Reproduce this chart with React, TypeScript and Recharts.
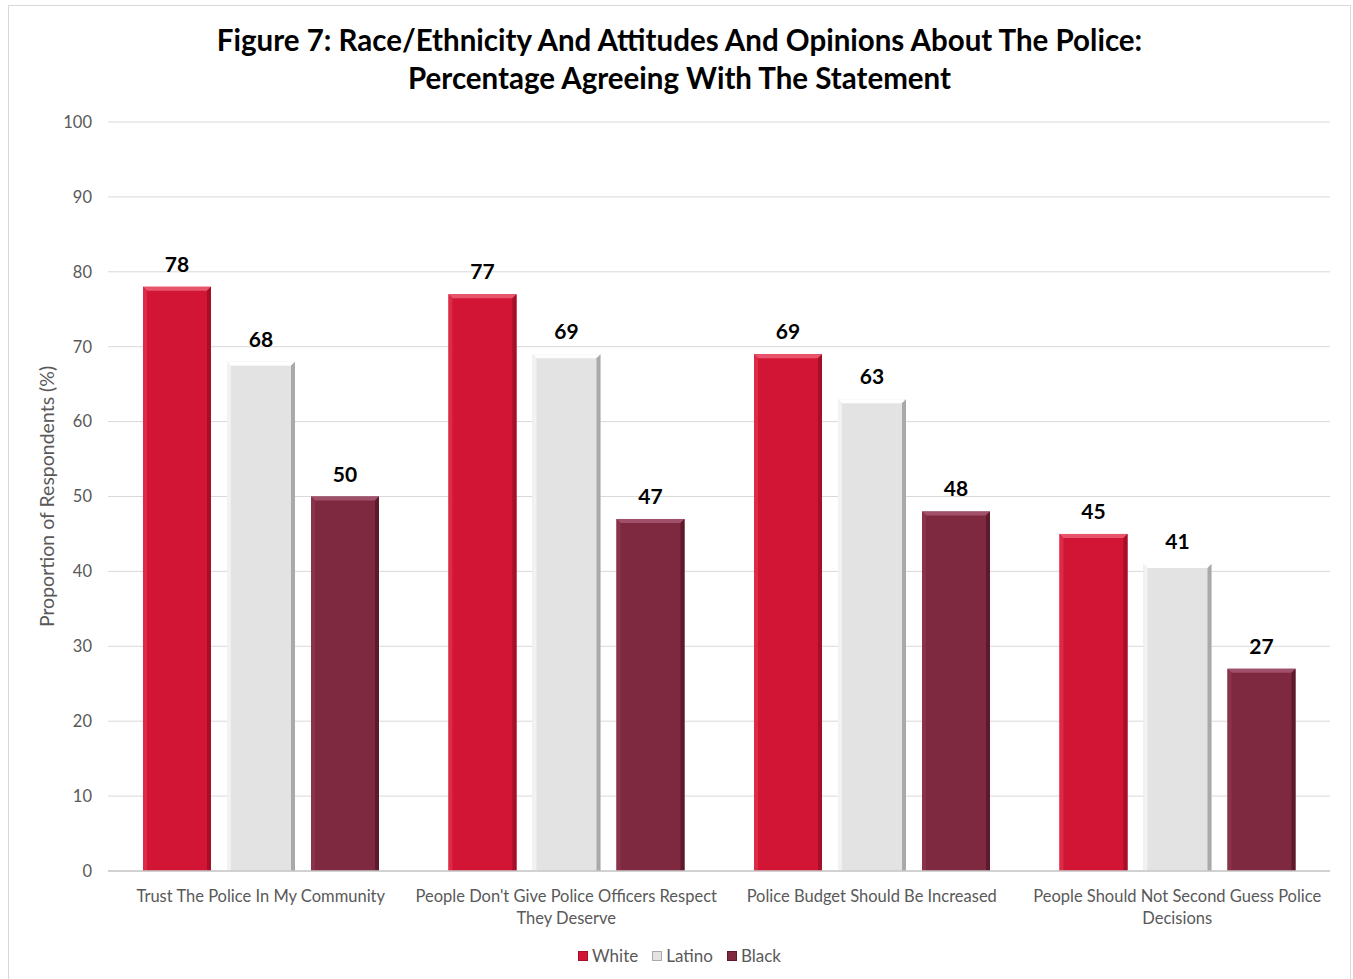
import { Bar, BarChart, CartesianGrid, LabelList, Text, XAxis, YAxis } from "recharts";

const CATEGORIES = [
  "Trust The Police In My Community",
  "People Don't Give Police Officers Respect They Deserve",
  "Police Budget Should Be Increased",
  "People Should Not Second Guess Police Decisions",
];
const WHITE = [78, 77, 69, 45];
const LATINO = [68, 69, 63, 41];
const BLACK = [50, 47, 48, 27];
const Y_TICKS = [0, 10, 20, 30, 40, 50, 60, 70, 80, 90, 100];

const FONT = "Lato, 'Open Sans', sans-serif";

const SERIES = [
  { key: "white", label: "White", fill: "#d31535", top: "#e9546d", left: "#dc2a47", right: "#a60f28" },
  { key: "latino", label: "Latino", fill: "#e3e3e3", top: "#ffffff", left: "#f2f2f2", right: "#a9a9a9" },
  { key: "black", label: "Black", fill: "#7e2940", top: "#a0506a", left: "#8a3249", right: "#5c1a2c" },
] as const;

const data = CATEGORIES.map((name, i) => ({
  name,
  white: WHITE[i],
  latino: LATINO[i],
  black: BLACK[i],
}));

function bevelShape(s: (typeof SERIES)[number]) {
  return (props: any) => {
    const { x, y, width: w, height: h } = props;
    if (!h || h <= 0) return <g />;
    const b = 4;
    return (
      <g>
        <rect x={x} y={y} width={w} height={h} fill={s.fill} />
        <polygon points={`${x},${y} ${x + w},${y} ${x + w - b},${y + b} ${x + b},${y + b}`} fill={s.top} />
        <polygon points={`${x},${y} ${x + b},${y + b} ${x + b},${y + h} ${x},${y + h}`} fill={s.left} />
        <polygon points={`${x + w},${y} ${x + w},${y + h} ${x + w - b},${y + h} ${x + w - b},${y + b}`} fill={s.right} />
      </g>
    );
  };
}

function XTick(props: any) {
  const { x, y, payload } = props;
  return (
    <Text
      x={x}
      y={y}
      width={300}
      textAnchor="middle"
      verticalAnchor="start"
      lineHeight="22px"
      fontSize={16.5}
      fontFamily={FONT}
      fill="#595959"
    >
      {payload.value}
    </Text>
  );
}

export default function App() {
  return (
    <div
      style={{
        position: "absolute",
        left: 8,
        top: 5,
        width: 1343,
        height: 980,
        border: "1px solid #d9d9d9",
        boxSizing: "border-box",
        background: "#fff",
        fontFamily: FONT,
      }}
    >
      <div
        style={{
          position: "absolute",
          left: 0,
          top: 15,
          width: 1341,
          textAlign: "center",
          fontWeight: 700,
          fontSize: 29.5,
          lineHeight: "38px",
          color: "#000",
        }}
      >
        Figure 7: Race/Ethnicity And Attitudes And Opinions About The Police:
        <br />
        Percentage Agreeing With The Statement
      </div>
      <BarChart
        width={1341}
        height={972}
        data={data}
        barSize={68}
        barGap={16}
        margin={{ top: 116, right: 20, bottom: 47, left: 0 }}
      >
        <CartesianGrid vertical={false} stroke="#d9d9d9" />
        <XAxis
          dataKey="name"
          height={60}
          tickLine={false}
          tickSize={0}
          tickMargin={19}
          axisLine={{ stroke: "#c8c8c8", strokeWidth: 1.5 }}
          tick={<XTick />}
          interval={0}
        />
        <YAxis
          width={99}
          domain={[0, 100]}
          ticks={Y_TICKS}
          axisLine={false}
          tickLine={false}
          tickSize={0}
          tickMargin={16}
          tick={{ fontSize: 16.5, fill: "#595959", fontFamily: FONT }}
          label={{
            value: "Proportion of Respondents (%)",
            angle: -90,
            position: "insideLeft",
            offset: 38,
            style: { textAnchor: "middle", fontSize: 19.5, fill: "#595959", fontFamily: FONT },
          }}
        />
        {SERIES.map((s) => (
          <Bar key={s.key} dataKey={s.key} name={s.label} fill={s.fill} shape={bevelShape(s)} isAnimationActive={false}>
            <LabelList
              dataKey={s.key}
              position="top"
              offset={15}
              style={{ fontSize: 21, fontWeight: 700, fill: "#000", fontFamily: FONT }}
            />
          </Bar>
        ))}
      </BarChart>
      <div
        style={{
          position: "absolute",
          top: 939,
          left: 0,
          width: 1341,
          display: "flex",
          justifyContent: "center",
          gap: 14,
          fontSize: 17,
          color: "#595959",
        }}
      >
        {SERIES.map((s) => (
          <div key={s.key} style={{ display: "flex", alignItems: "center", gap: 4 }}>
            <span style={{ width: 10, height: 10, background: s.fill, border: `1px solid ${s.right}`, boxSizing: "border-box" }} />
            <span>{s.label}</span>
          </div>
        ))}
      </div>
    </div>
  );
}
